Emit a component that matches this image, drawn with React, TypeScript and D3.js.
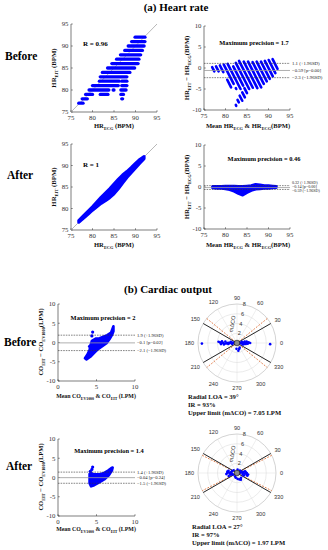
import React from 'react';
import * as d3 from 'd3';

// ================= DATA =================
// (a) Heart rate – Before: HR_EIT rows (BPM) with HR_ECG extents of the dots in that row
const hrBeforeRowEIT = [92, 91, 90, 89, 88, 87, 86, 85, 84, 83, 82, 82, 81, 81, 80, 80, 80, 79, 79, 79, 78, 78, 77];
const hrBeforeRowECGFrom = [89.9, 89.1, 88.3, 87.5, 86.5, 85.6, 84.5, 83.5, 82.3, 81.8, 81.6, 86.8, 80.0, 86.8, 79.2, 84.8, 86.6, 78.4, 81.8, 86.6, 77.6, 86.8, 76.8];
const hrBeforeRowECGTo = [92.2, 92.2, 92.0, 91.6, 91.2, 90.8, 90.6, 89.8, 88.7, 88.0, 86.2, 88.0, 86.0, 88.0, 83.8, 85.0, 87.8, 80.0, 83.6, 87.2, 78.8, 87.0, 77.8];

// (a) Heart rate – After: envelope of the dense dot band (HR_ECG vs HR_EIT)
const hrAfterECG = [76.8, 78, 79, 80, 81, 82, 83, 84, 85, 86, 87, 88, 89, 90, 91, 92];
const hrAfterEITHigh = [77.2, 78.4, 79.4, 80.4, 81.5, 82.6, 83.6, 84.6, 85.7, 86.8, 87.8, 88.6, 89.5, 90.5, 91.4, 92.1];
const hrAfterEITLow = [76.8, 77.8, 78.7, 79.6, 80.4, 81.2, 81.8, 82.5, 83.4, 84.6, 85.9, 87.2, 88.3, 89.4, 90.5, 91.6];

// Bland-Altman After (HR): envelope of differences along the mean
const baAfterMean = [77, 78, 79, 80, 81, 82, 83, 84, 85, 86, 87, 88, 89, 90, 91, 91.8];
const baAfterHigh = [0.1, 0.1, 0.1, 0.2, 0.2, 0.2, 0.1, 0.1, 0.2, 0.3, 0.6, 0.5, 0.3, 0.3, 0.2, 0.1];
const baAfterLow = [-0.2, -0.3, -0.3, -0.4, -0.6, -1.0, -1.5, -1.9, -1.3, -0.8, -0.5, -0.4, -0.3, -0.3, -0.2, -0.1];

// Bland-Altman reference lines [upper, mean, lower]
const hrBeforeLines = [1.1, -0.59, -2.3];
const hrBeforeLineLabels = ['1.1 (+1.96SD)', '−0.59 [p=0.00]', '−2.3 (−1.96SD)'];
const hrAfterLines = [0.32, -0.14, -0.59];
const hrAfterLineLabels = ['0.32 (+1.96SD)', '−0.14 [p=0.00]', '−0.59 (−1.96SD)'];

// (b) Cardiac output – BA clouds (hull of the dense dots) and isolated dots
const coBeforeHullMean = [3.5, 3.8, 4.1, 4.2, 4.4, 4.9, 5.4, 5.9, 6.4, 6.9, 7.2, 7.2, 7.0, 6.7, 6.3, 5.8, 5.2, 4.7, 4.2, 3.7];
const coBeforeHullDiff = [-4.1, -3.2, -2.0, -0.8, 0.4, 1.0, 1.1, 1.5, 1.9, 2.6, 4.2, 2.9, 1.9, 0.9, -0.2, -0.9, -1.7, -2.7, -3.7, -4.4];
const coBeforeDotMean = [4.5, 4.4, 4.1];
const coBeforeDotDiff = [2.7, 1.7, -1.0];
const coBeforeLines = [1.9, -0.1, -2.1];
const coBeforeLineLabels = ['1.9 (+1.96SD)', '−0.1 [p=0.02]', '−2.1 (−1.96SD)'];

const coAfterHullMean = [4.1, 4.3, 4.7, 5.3, 6.0, 6.5, 6.9, 7.1, 7.0, 6.6, 6.0, 5.3, 4.7, 4.3, 4.1];
const coAfterHullDiff = [0.9, 1.1, 0.8, 0.8, 1.2, 1.8, 2.4, 2.6, 1.8, 0.6, -0.5, -1.3, -2.0, -2.3, -1.5];
const coAfterDotMean = [4.5, 4.4, 4.2];
const coAfterDotDiff = [2.7, 2.1, 1.6];
const coAfterLines = [1.4, -0.04, -1.5];
const coAfterLineLabels = ['1.4 (+1.96SD)', '−0.04 [p=0.24]', '−1.5 (−1.96SD)'];

// Polar plots (angle in degrees, radius mΔCO in LPM)
const polarBeforeTheta = [181, 358, 0, 4, -4, 8, -7, 2, -2, 6, 176, 184, 179, 173, 187, 181, 177, 186, 174, 10, -10, 14, -14, 1, -1, 180, 180, 182, 178, 0, 0, 190, 170, 290, 280, 265, 300, 186, 174, 5, -6, 3, 178, 183, 179, 181, -3];
const polarBeforeR = [7.2, 6.8, 2.7, 2.4, 2.2, 2.0, 1.8, 1.5, 1.2, 1.0, 3.8, 3.3, 2.9, 2.4, 1.8, 1.5, 1.2, 1.0, 0.8, 1.6, 1.4, 1.0, 1.2, 2.0, 0.8, 2.0, 0.9, 2.5, 1.7, 2.2, 1.9, 1.0, 1.3, 1.3, 1.6, 1.2, 1.1, 2.7, 3.1, 1.3, 0.6, 0.5, 3.5, 2.2, 3.0, 1.1, 0.9];
const polarAfterTheta = [0, 5, -5, 10, -10, 15, -15, 8, -20, 180, 175, 185, 170, 190, 165, 195, 200, 160, 275, 290, 255, 300, 310, 240, 80, 40, 140, 0, 180, 345, 12, 200, 352, 172, 186, 3];
const polarAfterR = [2.0, 1.8, 1.6, 1.4, 2.0, 1.0, 1.2, 0.9, 1.5, 2.0, 1.7, 1.5, 1.2, 1.0, 1.8, 1.3, 0.9, 1.1, 1.2, 1.4, 1.0, 1.6, 1.3, 0.8, 0.7, 0.8, 0.9, 1.2, 1.3, 2.2, 1.7, 1.8, 2.3, 2.0, 2.2, 0.6];
const polarRingTicks = [2, 4, 6, 8];
const polarThetaTicks = [0, 30, 60, 90, 120, 150, 180, 210, 240, 270, 300, 330];
const refAngle = 30;
const loaBefore = 39;
const loaAfter = 27;

const hrTicks = [75, 80, 85, 90, 95];
const diffTicks = [-10, -5, 0, 5, 10];
const coTicks = [0, 5, 10];

// ================= STYLE =================
const SERIF = 'Liberation Serif, Times New Roman, serif';
const SANS = 'Liberation Sans, Arial, sans-serif';
const BLUE = '#0000ff';
const AX = '#262626';

function Axes({ xs, ys, xTicks, yTicks }: any) {
  const [x0, x1] = xs.range();
  const [y0, y1] = ys.range();
  return (
    <g>
      <line x1={x0} y1={y0} x2={x1} y2={y0} stroke={AX} strokeWidth={0.6} />
      <line x1={x0} y1={y0} x2={x0} y2={y1} stroke={AX} strokeWidth={0.6} />
      {xTicks.map((t: number) => (
        <g key={'x' + t}>
          <line x1={xs(t)} x2={xs(t)} y1={y0} y2={y0 - 1.8} stroke={AX} strokeWidth={0.5} />
          <text x={xs(t)} y={y0 + 7.6} textAnchor="middle" fontSize={6.8} fontFamily={SERIF} fill="#333">{t}</text>
        </g>
      ))}
      {yTicks.map((t: number) => (
        <g key={'y' + t}>
          <line x1={x0} x2={x0 + 1.8} y1={ys(t)} y2={ys(t)} stroke={AX} strokeWidth={0.5} />
          <text x={x0 - 2.5} y={ys(t) + 2.3} textAnchor="end" fontSize={6.8} fontFamily={SERIF} fill="#333">{t}</text>
        </g>
      ))}
    </g>
  );
}

function Lab({ x, y, parts, size, rotate }: any) {
  // parts: array of [text, isSub]
  return (
    <text x={x} y={y} textAnchor="middle" fontSize={size} fontFamily={SERIF} fontWeight="bold" fill="#111"
      transform={rotate ? `rotate(-90 ${x} ${y})` : undefined}>
      {parts.map((p: any, i: number) => p[1]
        ? <tspan key={i} fontSize={size * 0.66} dy={size * 0.3}>{p[0]}</tspan>
        : <tspan key={i} dy={i > 0 && parts[i - 1][1] ? -size * 0.3 : 0}>{p[0]}</tspan>)}
    </text>
  );
}

function BALines({ xs, ys, values, labels, labelYs, fs }: any) {
  const [x0, x1] = xs.range();
  return (
    <g>
      {values.map((v: number, i: number) => (
        <line key={i} x1={x0} x2={x1} y1={ys(v)} y2={ys(v)}
          stroke={i === 1 ? '#9a9a9a' : '#333'} strokeWidth={i === 1 ? 0.8 : 0.6}
          strokeDasharray={i === 1 ? undefined : '1.6,1'} />
      ))}
      {labels.map((l: string, i: number) => (
        <text key={'l' + i} x={x1 + 2} y={(labelYs ? labelYs[i] : ys(values[i])) + fs * 0.35}
          fontSize={fs} fontFamily={SERIF} fill="#222">{l}</text>
      ))}
    </g>
  );
}

function Polar({ cx, cy, R, theta, r, loa }: any) {
  const rs = d3.scaleLinear().domain([0, 8]).range([0, R]);
  const pt = (deg: number, rr: number) => [
    cx + rs(rr) * Math.cos((deg * Math.PI) / 180),
    cy - rs(rr) * Math.sin((deg * Math.PI) / 180),
  ];
  const lineThrough = (deg: number) => {
    const a = pt(deg, 8);
    const b = pt(deg + 180, 8);
    return { x1: a[0], y1: a[1], x2: b[0], y2: b[1] };
  };
  const axisDeg = 80;
  const mid = pt(axisDeg, 3.7);
  const lx = mid[0] - 7.9;
  const ly = mid[1] - 1.4;
  return (
    <g>
      {polarRingTicks.map((t) => (
        <circle key={t} cx={cx} cy={cy} r={rs(t)} fill="none" stroke={t === 8 ? '#b5b5b5' : '#dedede'} strokeWidth={0.6} />
      ))}
      {polarThetaTicks.map((t) => {
        const p = pt(t, 8);
        return <line key={'s' + t} x1={cx} y1={cy} x2={p[0]} y2={p[1]} stroke="#dedede" strokeWidth={0.5} />;
      })}
      {polarThetaTicks.map((t) => {
        const a = (t * Math.PI) / 180;
        const w = String(t).length * 1.55;
        const off = R + 4 + w * Math.abs(Math.cos(a)) + 2.2 * Math.abs(Math.sin(a));
        return (
          <text key={'t' + t} x={cx + off * Math.cos(a)} y={cy - off * Math.sin(a) + 1.9}
            textAnchor="middle" fontSize={5.6} fontFamily={SANS} fill="#333">{t}</text>
        );
      })}
      {polarRingTicks.map((t) => {
        const p = pt(axisDeg, t);
        return (
          <text key={'r' + t} x={p[0] + 0.5} y={p[1] + 1.9} textAnchor="middle" fontSize={5.6} fontFamily={SANS} fill="#333">{t}</text>
        );
      })}
      <text x={lx} y={ly} textAnchor="middle" fontSize={5.6} fontFamily={SANS} fill="#333"
        transform={`rotate(-80 ${lx} ${ly})`} dy="0.35em">mΔCO</text>
      {[loa, 180 - loa].map((d: number) => (
        <line key={'o' + d} {...lineThrough(d)} stroke="#e0743c" strokeWidth={0.9} strokeDasharray="1.8,1.4" />
      ))}
      {[refAngle, 180 - refAngle].map((d: number) => (
        <line key={'k' + d} {...lineThrough(d)} stroke="#111" strokeWidth={0.9} />
      ))}
      {theta.map((t: number, i: number) => {
        const p = pt(t, r[i]);
        return <circle key={'d' + i} cx={p[0]} cy={p[1]} r={1.3} fill={BLUE} />;
      })}
      <circle cx={cx} cy={cy} r={2.8} fill="#8c8c8c" stroke="#111" strokeWidth={0.6} />
    </g>
  );
}

export default function App() {
  // scales
  const a1x = d3.scaleLinear().domain([75, 95]).range([71, 157]);
  const a1y = d3.scaleLinear().domain([75, 95]).range([112, 24]);
  const a2x = d3.scaleLinear().domain([75, 95]).range([204, 290]);
  const a2y = d3.scaleLinear().domain([-10, 10]).range([110, 26]);
  const a3x = d3.scaleLinear().domain([75, 95]).range([71, 157]);
  const a3y = d3.scaleLinear().domain([75, 95]).range([230, 144]);
  const a4x = d3.scaleLinear().domain([75, 95]).range([204, 290]);
  const a4y = d3.scaleLinear().domain([-10, 10]).range([229, 145]);
  const b1x = d3.scaleLinear().domain([0, 10]).range([58, 135]);
  const b1y = d3.scaleLinear().domain([-10, 10]).range([381, 304]);
  const b2x = d3.scaleLinear().domain([0, 10]).range([58, 135]);
  const b2y = d3.scaleLinear().domain([-10, 10]).range([516, 439]);

  const hrAfterBand = hrAfterECG.map((x, i) => ({ x, hi: hrAfterEITHigh[i], lo: hrAfterEITLow[i] }));
  const a3Area = d3.area<any>().x((d) => a3x(d.x)).y0((d) => a3y(d.lo)).y1((d) => a3y(d.hi))(hrAfterBand) || '';
  const baAfterBand = baAfterMean.map((m, i) => ({ m, hi: baAfterHigh[i], lo: baAfterLow[i] }));
  const a4Area = d3.area<any>().x((d) => a4x(d.m)).y0((d) => a4y(d.lo)).y1((d) => a4y(d.hi))(baAfterBand) || '';

  const hull = (xs: any, ys: any, mm: number[], dd: number[]) =>
    d3.line<number>().x((_, i) => xs(mm[i])).y((_, i) => ys(dd[i]))(mm.map((_, i) => i)) + 'Z';

  const hrHeading = (sub: string) => [['HR', false], [sub, true]];

  return (
    <svg width={328} height={550} style={{ position: 'absolute', left: 0, top: 0, background: '#fff' }}>
      <rect width={328} height={550} fill="#fff" />
      {/* titles */}
      <text x={176} y={11} textAnchor="middle" fontSize={11} fontWeight="bold" fontFamily={SERIF}>(a) Heart rate</text>
      <text x={168} y={293} textAnchor="middle" fontSize={11} fontWeight="bold" fontFamily={SERIF}>(b) Cardiac output</text>
      <text x={5} y={60} fontSize={11.5} fontWeight="bold" fontFamily={SERIF}>Before</text>
      <text x={7} y={179} fontSize={11.5} fontWeight="bold" fontFamily={SERIF}>After</text>
      <text x={4} y={346} fontSize={11.5} fontWeight="bold" fontFamily={SERIF}>Before</text>
      <text x={6} y={470} fontSize={11.5} fontWeight="bold" fontFamily={SERIF}>After</text>

      {/* A1: HR scatter before */}
      <Axes xs={a1x} ys={a1y} xTicks={hrTicks} yTicks={hrTicks} />
      <line x1={a1x(75)} y1={a1y(75)} x2={a1x(95)} y2={a1y(95)} stroke="#9a9a9a" strokeWidth={0.7} />
      {hrBeforeRowEIT.map((e, i) => (
        <line key={i} x1={a1x(hrBeforeRowECGFrom[i])} x2={a1x(hrBeforeRowECGTo[i])} y1={a1y(e)} y2={a1y(e)}
          stroke={BLUE} strokeWidth={3.3} strokeLinecap="round" />
      ))}
      <text x={83} y={46} fontSize={7} fontWeight="bold" fontFamily={SERIF}>R = 0.96</text>
      <Lab x={114} y={128} size={6.6} parts={[...hrHeading('ECG'), [' (BPM)', false]]} />
      <Lab x={56} y={68} size={6.8} rotate parts={[...hrHeading('EIT'), [' (BPM)', false]]} />

      {/* A2: HR Bland-Altman before */}
      <Axes xs={a2x} ys={a2y} xTicks={hrTicks} yTicks={diffTicks} />
      {hrBeforeRowEIT.map((e, i) => {
        const f = hrBeforeRowECGFrom[i];
        const t = hrBeforeRowECGTo[i];
        return (
          <line key={i} x1={a2x((e + f) / 2)} y1={a2y(e - f)} x2={a2x((e + t) / 2)} y2={a2y(e - t)}
            stroke={BLUE} strokeWidth={2.6} strokeLinecap="round" />
        );
      })}
      <BALines xs={a2x} ys={a2y} values={hrBeforeLines} labels={hrBeforeLineLabels} fs={4.8} />
      <text x={254} y={45} textAnchor="middle" fontSize={6.4} fontWeight="bold" fontFamily={SERIF}>Maximum precision = 1.7</text>
      <Lab x={248} y={128} size={6.6} parts={[['Mean HR', false], ['ECG', true], [' & HR', false], ['ECG', true], ['(BPM)', false]]} />
      <Lab x={189} y={68} size={6.8} rotate parts={[['HR', false], ['EIT', true], [' − HR', false], ['ECG', true], ['(BPM)', false]]} />

      {/* A3: HR scatter after */}
      <Axes xs={a3x} ys={a3y} xTicks={hrTicks} yTicks={hrTicks} />
      <line x1={a3x(75)} y1={a3y(75)} x2={a3x(95)} y2={a3y(95)} stroke="#9a9a9a" strokeWidth={0.7} />
      <path d={a3Area} fill={BLUE} stroke={BLUE} strokeWidth={3} strokeLinejoin="round" />
      <text x={83} y={167} fontSize={7} fontWeight="bold" fontFamily={SERIF}>R = 1</text>
      <Lab x={114} y={247} size={6.6} parts={[...hrHeading('ECG'), [' (BPM)', false]]} />
      <Lab x={56} y={187} size={6.8} rotate parts={[...hrHeading('EIT'), [' (BPM)', false]]} />

      {/* A4: HR Bland-Altman after */}
      <Axes xs={a4x} ys={a4y} xTicks={hrTicks} yTicks={diffTicks} />
      <path d={a4Area} fill={BLUE} stroke={BLUE} strokeWidth={3} strokeLinejoin="round" />
      <BALines xs={a4x} ys={a4y} values={hrAfterLines} labels={hrAfterLineLabels}
        labelYs={[182.2, 186.5, 190.8]} fs={4.1} />
      <text x={264} y={161} textAnchor="middle" fontSize={6.4} fontWeight="bold" fontFamily={SERIF}>Maximum precision = 0.46</text>
      <Lab x={248} y={247} size={6.6} parts={[['Mean HR', false], ['ECG', true], [' & HR', false], ['ECG', true], ['(BPM)', false]]} />
      <Lab x={189} y={187} size={6.8} rotate parts={[['HR', false], ['EIT', true], [' − HR', false], ['ECG', true], ['(BPM)', false]]} />

      {/* B1: CO Bland-Altman before */}
      <Axes xs={b1x} ys={b1y} xTicks={coTicks} yTicks={diffTicks} />
      <path d={hull(b1x, b1y, coBeforeHullMean, coBeforeHullDiff)} fill={BLUE} stroke={BLUE} strokeWidth={2.6} strokeLinejoin="round" />
      {coBeforeDotMean.map((m, i) => <circle key={i} cx={b1x(m)} cy={b1y(coBeforeDotDiff[i])} r={1.6} fill={BLUE} />)}
      <BALines xs={b1x} ys={b1y} values={coBeforeLines} labels={coBeforeLineLabels} fs={4.6} />
      <text x={103} y={320} textAnchor="middle" fontSize={6.4} fontWeight="bold" fontFamily={SERIF}>Maximum precision = 2</text>
      <Lab x={96} y={398} size={5.9} parts={[['Mean CO', false], ['EV1000', true], [' & CO', false], ['EIT', true], [' (LPM)', false]]} />
      <Lab x={43} y={342} size={6.5} rotate parts={[['CO', false], ['EIT', true], [' − CO', false], ['EV1000', true], ['(LPM)', false]]} />

      {/* B2: CO Bland-Altman after */}
      <Axes xs={b2x} ys={b2y} xTicks={coTicks} yTicks={diffTicks} />
      <path d={hull(b2x, b2y, coAfterHullMean, coAfterHullDiff)} fill={BLUE} stroke={BLUE} strokeWidth={2.6} strokeLinejoin="round" />
      {coAfterDotMean.map((m, i) => <circle key={i} cx={b2x(m)} cy={b2y(coAfterDotDiff[i])} r={1.6} fill={BLUE} />)}
      <BALines xs={b2x} ys={b2y} values={coAfterLines} labels={coAfterLineLabels} fs={4.6} />
      <text x={109} y={453} textAnchor="middle" fontSize={6.4} fontWeight="bold" fontFamily={SERIF}>Maximum precision = 1.4</text>
      <Lab x={96} y={531} size={5.9} parts={[['Mean CO', false], ['EV1000', true], [' & CO', false], ['EIT', true], [' (LPM)', false]]} />
      <Lab x={43} y={477} size={6.5} rotate parts={[['CO', false], ['EIT', true], [' − CO', false], ['EV1000', true], ['(LPM)', false]]} />

      {/* Polar plots */}
      <Polar cx={237} cy={343} R={39} theta={polarBeforeTheta} r={polarBeforeR} loa={loaBefore} />
      <Polar cx={237} cy={473} R={39} theta={polarAfterTheta} r={polarAfterR} loa={loaAfter} />
      <g fontFamily={SERIF} fontWeight="bold" fontSize={6.6} fill="#111" style={{ whiteSpace: 'pre' }}>
        <text x={188} y={398.5}>Radial LOA = 39°</text>
        <text x={188} y={406.5}>IR = 93%</text>
        <text x={188} y={414.5}>Upper limit (mΔCO) = 7.05 LPM</text>
        <text x={192} y={529}>Radial LOA = 27°</text>
        <text x={192} y={537}>IR = 97%</text>
        <text x={192} y={545}>Upper limit (mΔCO) =  1.97 LPM</text>
      </g>
    </svg>
  );
}
